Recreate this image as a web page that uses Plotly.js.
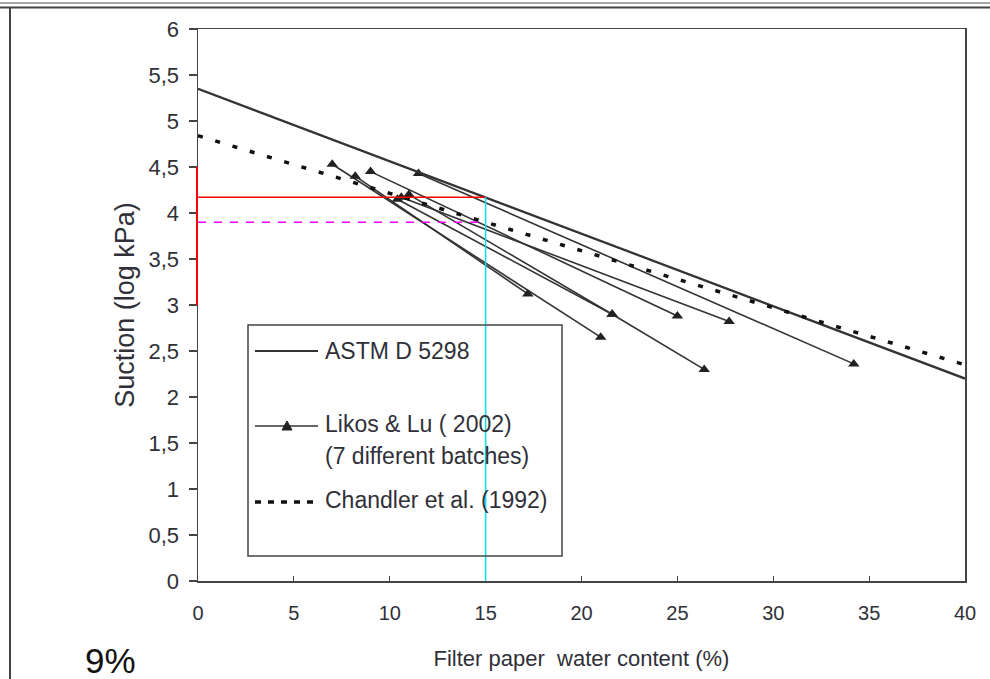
<!DOCTYPE html>
<html>
<head>
<meta charset="utf-8">
<script src="https://cdn.plot.ly/plotly-3.0.1.min.js"></script>
<style>
html,body{margin:0;padding:0;background:#fff;}
#chart{width:990px;height:679px;}
</style>
</head>
<body>
<div id="chart"></div>
<script>
// ASTM D 5298 calibration line
const astmX = [0, 15, 40];
const astmY = [5.35, 4.17, 2.20];
// Chandler et al. (1992)
const chandlerX = [0, 15, 40];
const chandlerY = [4.84, 3.90, 2.35];
// Likos & Lu (2002) - 7 batches
const batch1X = [7.0, 21.0];   const batch1Y = [4.53, 2.65];
const batch2X = [8.2, 17.2];   const batch2Y = [4.40, 3.12];
const batch3X = [9.0, 25.0];   const batch3Y = [4.45, 2.88];
const batch4X = [10.4, 21.6];  const batch4Y = [4.15, 2.90];
const batch5X = [11.0, 21.6, 26.4]; const batch5Y = [4.20, 2.90, 2.30];
const batch6X = [10.6, 27.7];  const batch6Y = [4.17, 2.82];
const batch7X = [11.5, 34.2];  const batch7Y = [4.43, 2.36];
const batchesX = [batch1X, batch2X, batch3X, batch4X, batch5X, batch6X, batch7X];
const batchesY = [batch1Y, batch2Y, batch3Y, batch4Y, batch5Y, batch6Y, batch7Y];
// reference marks
const wRef = 15;          // filter paper water content (%)
const suctionASTM = 4.17; // log kPa
const suctionChandler = 3.90;
const redBarY = [3.0, 4.5];

const labels = {
  astm: 'ASTM D 5298',
  likos1: 'Likos & Lu ( 2002)',
  likos2: '(7 different batches)',
  chandler: 'Chandler et al. (1992)',
  xTitle: 'Filter paper  water content (%)',
  yTitle: 'Suction (log kPa)',
  pct: '9%'
};

const FONT = 'Liberation Sans, Arial, sans-serif';
const INK = '#303038';

const traces = [];
batchesX.forEach((bx, i) => {
  traces.push({
    x: bx, y: batchesY[i], type: 'scatter', mode: 'lines+markers',
    line: {color: '#333', width: 1.6},
    marker: {symbol: 'triangle-up', size: 10, color: '#222'},
    hoverinfo: 'skip', showlegend: false
  });
});
traces.push({
  x: astmX, y: astmY, type: 'scatter', mode: 'lines',
  line: {color: '#333', width: 2.3}, showlegend: false, hoverinfo: 'skip'
});
traces.push({
  x: chandlerX, y: chandlerY, type: 'scatter', mode: 'lines',
  line: {color: '#111', width: 3.5, dash: '5px,13px'}, showlegend: false, hoverinfo: 'skip'
});

// legend positions in paper coords (pixel based helpers)
const L = 198, R = 965, T = 29, B = 581;
const px = v => (v - L) / (R - L);
const py = v => (B - v) / (B - T);

const shapes = [
  // reference lines
  {type: 'line', xref: 'x', yref: 'y', x0: 0, x1: wRef, y0: suctionASTM, y1: suctionASTM,
   line: {color: '#ff0000', width: 1.5}},
  {type: 'line', xref: 'x', yref: 'y', x0: 0, x1: wRef, y0: suctionChandler, y1: suctionChandler,
   line: {color: '#ff00ff', width: 1.5, dash: '8px,8px'}},
  {type: 'line', xref: 'x', yref: 'y', x0: wRef, x1: wRef, y0: 0, y1: suctionASTM,
   line: {color: '#00e5ee', width: 1.5}},
  {type: 'line', xref: 'paper', yref: 'y', x0: px(197), x1: px(197), y0: redBarY[0], y1: redBarY[1],
   line: {color: '#ff0000', width: 2}},
  // legend box
  {type: 'rect', xref: 'paper', yref: 'paper', x0: px(248), x1: px(562), y0: py(556), y1: py(325),
   line: {color: '#444', width: 1.5}, fillcolor: 'rgba(0,0,0,0)'},
  {type: 'line', xref: 'paper', yref: 'paper', x0: px(255), x1: px(318), y0: py(351), y1: py(351),
   line: {color: '#333', width: 2}},
  {type: 'line', xref: 'paper', yref: 'paper', x0: px(255), x1: px(318), y0: py(426), y1: py(426),
   line: {color: '#333', width: 1.4}},
  {type: 'path', xref: 'paper', yref: 'paper', xsizemode: 'pixel', ysizemode: 'pixel',
   xanchor: px(287), yanchor: py(426), path: 'M-5,-4 L5,-4 L0,5 Z',
   fillcolor: '#222', line: {color: '#222', width: 1}},
  {type: 'line', xref: 'paper', yref: 'paper', x0: px(255), x1: px(318), y0: py(502), y1: py(502),
   line: {color: '#111', width: 3.5, dash: '6px,7px'}},
  // outer page border
  {type: 'line', xref: 'paper', yref: 'paper', x0: px(0), x1: px(990), y0: py(3), y1: py(3),
   line: {color: '#888', width: 1.5}},
  {type: 'line', xref: 'paper', yref: 'paper', x0: px(0), x1: px(990), y0: py(7.5), y1: py(7.5),
   line: {color: '#444', width: 2}},
  {type: 'line', xref: 'paper', yref: 'paper', x0: px(10), x1: px(10), y0: py(7), y1: py(679),
   line: {color: '#444', width: 2}}
];

const annFont = {family: FONT, size: 23, color: INK};
const annotations = [
  {xref: 'paper', yref: 'paper', x: px(323), y: py(351), xanchor: 'left', yanchor: 'middle',
   text: labels.astm, showarrow: false, font: annFont},
  {xref: 'paper', yref: 'paper', x: px(323), y: py(424), xanchor: 'left', yanchor: 'middle',
   text: labels.likos1, showarrow: false, font: annFont},
  {xref: 'paper', yref: 'paper', x: px(323), y: py(456), xanchor: 'left', yanchor: 'middle',
   text: labels.likos2, showarrow: false, font: annFont},
  {xref: 'paper', yref: 'paper', x: px(323), y: py(500), xanchor: 'left', yanchor: 'middle',
   text: labels.chandler, showarrow: false, font: annFont},
  {xref: 'paper', yref: 'paper', x: px(110), y: py(660), xanchor: 'center', yanchor: 'middle',
   text: labels.pct, showarrow: false, font: {family: FONT, size: 35, color: '#111'}}
];

const layout = {
  width: 990, height: 679,
  margin: {l: L, r: 990 - R, t: T, b: 679 - B, pad: 0},
  paper_bgcolor: '#fff', plot_bgcolor: '#fff',
  separators: ', ',
  showlegend: false,
  font: {family: FONT, color: INK, size: 17},
  xaxis: {
    range: [0, 40], dtick: 5, tick0: 0, showgrid: false, zeroline: false,
    showline: true, linecolor: '#444', linewidth: 1.5, mirror: true,
    ticks: 'inside', ticklen: 5, tickcolor: '#444', tickwidth: 1.2,
    ticklabelstandoff: 13,
    tickfont: {family: FONT, size: 20, color: INK},
    title: {text: labels.xTitle, font: {family: FONT, size: 22, color: INK}, standoff: 28}
  },
  yaxis: {
    range: [0, 6], dtick: 0.5, tick0: 0, showgrid: false, zeroline: false,
    showline: true, linecolor: '#444', linewidth: 1.5, mirror: true,
    ticks: 'outside', ticklen: 8, tickcolor: '#444', tickwidth: 1.2,
    ticklabelstandoff: 5,
    tickfont: {family: FONT, size: 22, color: INK},
    title: {text: labels.yTitle, font: {family: FONT, size: 27, color: INK}, standoff: 6}
  },
  shapes: shapes,
  annotations: annotations
};

Plotly.newPlot('chart', traces, layout, {displayModeBar: false, staticPlot: true});
</script>
</body>
</html>
